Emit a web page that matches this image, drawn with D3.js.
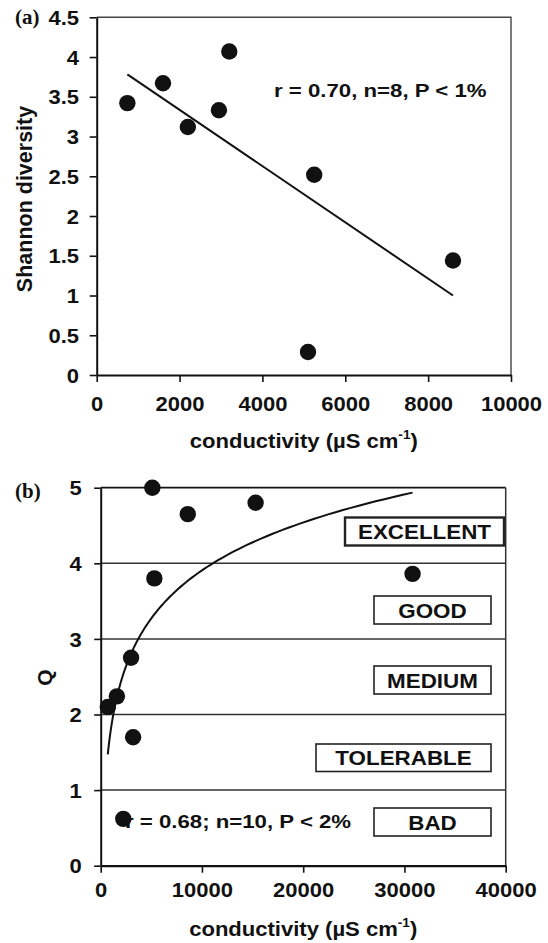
<!DOCTYPE html>
<html>
<head>
<meta charset="utf-8">
<script src="https://cdn.jsdelivr.net/npm/d3@7"></script>
<style>
  html, body { margin: 0; padding: 0; background: #fff; }
  svg { display: block; }
  text { font-family: "Liberation Sans", Arial, sans-serif; font-weight: bold; fill: #111; }
</style>
</head>
<body>
<svg id="chart" width="548" height="943"></svg>
<script>
'use strict';

/* Data */

// panel (a): conductivity vs Shannon diversity
var condA = [740, 1600, 2200, 2950, 3200, 5250, 5100, 8600]
var shannon = [3.42, 3.67, 3.12, 3.33, 4.07, 2.52, 0.29, 1.44]
var xTicksA = [0, 2000, 4000, 6000, 8000, 10000]
var yTicksA = [0, 0.5, 1, 1.5, 2, 2.5, 3, 3.5, 4, 4.5]

// panel (b): conductivity vs Q
var condB = [5100, 8600, 15300, 5300, 3000, 1600, 700, 3200, 2230, 30800]
var qValues = [5.0, 4.65, 4.8, 3.8, 2.75, 2.24, 2.1, 1.7, 0.62, 3.86]
var xTicksB = [0, 10000, 20000, 30000, 40000]
var yTicksB = [0, 1, 2, 3, 4, 5]
var classes = ['BAD', 'TOLERABLE', 'MEDIUM', 'GOOD', 'EXCELLENT']

var statsA = 'r = 0.70, n=8, P < 1%'
var statsB = 'r = 0.68; n=10, P < 2%'

/* Layout */

var svg = d3.select('#chart')
var ink = '#111'

// boxes for quality classes, in pixels
var boxLayout = {
  EXCELLENT: {x0: 345, x1: 504, y0: 517.5, y1: 545.5, w: 2.4},
  GOOD:      {x0: 374, x1: 491, y0: 596,   y1: 624,   w: 1.6},
  MEDIUM:    {x0: 374, x1: 491, y0: 666,   y1: 694,   w: 1.6},
  TOLERABLE: {x0: 316, x1: 491, y0: 744,   y1: 771.5, w: 1.6},
  BAD:       {x0: 374, x1: 491, y0: 808,   y1: 836,   w: 1.6}
}

function label(x, y, txt, opts) {
  opts = opts || {}
  var g = svg.append('g')
      .attr('transform', 'translate(' + x + ',' + y + ')' + (opts.rotate ? ' rotate(' + opts.rotate + ')' : '') +
            ' scale(' + (opts.sx || 1) + ',1)')
  var t = g.append('text')
      .attr('text-anchor', opts.anchor || 'start')
      .style('font-size', (opts.size || 19) + 'px')
  if (opts.serif) t.style('font-family', '"Liberation Serif", "Times New Roman", serif')
  t.text(txt)
  return t
}

function xTitle(cx, y) {
  var g = svg.append('g').attr('transform', 'translate(' + cx + ',' + y + ') scale(1.05,1)')
  var t = g.append('text').attr('text-anchor', 'middle').style('font-size', '21px')
  t.append('tspan').text('conductivity (\u00b5S cm')
  t.append('tspan').text('-1').style('font-size', '13px').attr('dy', -9)
  t.append('tspan').text(')').attr('dy', 9)
}

function styleAxis(g, w) {
  g.select('.domain').attr('stroke', ink).attr('stroke-width', w)
  g.selectAll('.tick line').attr('stroke', ink).attr('stroke-width', 1.6)
  g.selectAll('.tick text')
      .attr('fill', ink)
      .style('font-family', '"Liberation Sans", Arial, sans-serif')
      .style('font-weight', 'bold')
      .style('font-size', '20px')
}

function linearFit(xs, ys) {
  var mx = d3.mean(xs), my = d3.mean(ys)
  var sxy = d3.sum(xs, function(x, i){ return (x - mx) * (ys[i] - my) })
  var sxx = d3.sum(xs, function(x){ return (x - mx) * (x - mx) })
  var slope = sxy / sxx
  return {slope: slope, intercept: my - slope * mx}
}

/* Panel (a) */

var xA = d3.scaleLinear().domain([0, 10000]).range([96.7, 511])
var yA = d3.scaleLinear().domain([0, 4.5]).range([375, 17.3])

// frame top/right
svg.append('path')
    .attr('d', 'M' + xA(0) + ',' + yA(4.5) + 'H' + xA(10000) + 'V' + yA(0))
    .attr('fill', 'none').attr('stroke', '#444').attr('stroke-width', 1.4)

var gxA = svg.append('g')
    .attr('transform', 'translate(0,' + yA(0) + ')')
    .call(d3.axisBottom(xA).tickValues(xTicksA).tickSize(7).tickSizeOuter(0).tickFormat(d3.format('d')))
styleAxis(gxA, 2)
gxA.selectAll('.tick text').attr('dy', 0).attr('y', 35.7).attr('transform', 'scale(1.1,1)')

var gyA = svg.append('g')
    .attr('transform', 'translate(' + xA(0) + ',0)')
    .call(d3.axisLeft(yA).tickValues(yTicksA).tickSize(7).tickSizeOuter(0).tickFormat(function(d){ return String(d) }))
styleAxis(gyA, 2)
gyA.selectAll('.tick text').attr('x', -16).attr('dy', '0.36em').attr('transform', 'scale(1.1,1)')

var fitA = linearFit(condA, shannon)
var extA = d3.extent(condA)
svg.append('line')
    .attr('x1', xA(extA[0])).attr('y1', yA(fitA.intercept + fitA.slope * extA[0]))
    .attr('x2', xA(extA[1])).attr('y2', yA(fitA.intercept + fitA.slope * extA[1]))
    .attr('stroke', ink).attr('stroke-width', 2)

svg.append('g').selectAll('circle')
    .data(condA)
  .enter().append('circle')
    .attr('cx', function(d){ return xA(d) })
    .attr('cy', function(d, i){ return yA(shannon[i]) })
    .attr('r', 8.2)
    .attr('fill', '#111')

label(274, 96.7, statsA, {size: 19, sx: 1.17})
label(15, 24, '(a)', {size: 20, sx: 1.05, serif: true})
label(32, 199, 'Shannon diversity', {size: 21.5, rotate: -90, anchor: 'middle'})
xTitle(303.8, 448)

/* Panel (b) */

var xB = d3.scaleLinear().domain([0, 40000]).range([100.7, 505.7])
var yB = d3.scaleLinear().domain([0, 5]).range([865.7, 487.7])

// class gridlines
svg.append('g').selectAll('line')
    .data(yTicksB.slice(1, 5))
  .enter().append('line')
    .attr('x1', xB(0)).attr('x2', xB(40000))
    .attr('y1', function(d){ return yB(d) }).attr('y2', function(d){ return yB(d) })
    .attr('stroke', '#333').attr('stroke-width', 1.5)

svg.append('line')
    .attr('x1', xB(0)).attr('x2', xB(40000)).attr('y1', yB(5)).attr('y2', yB(5))
    .attr('stroke', ink).attr('stroke-width', 1.8)
svg.append('line')
    .attr('x1', xB(40000)).attr('x2', xB(40000)).attr('y1', yB(5)).attr('y2', yB(0))
    .attr('stroke', '#333').attr('stroke-width', 1.5)

var gxB = svg.append('g')
    .attr('transform', 'translate(0,' + yB(0) + ')')
    .call(d3.axisBottom(xB).tickValues(xTicksB).tickSize(7).tickSizeOuter(0).tickFormat(d3.format('d')))
styleAxis(gxB, 2.2)
gxB.selectAll('.tick text').attr('dy', 0).attr('y', 31).attr('transform', 'scale(1.1,1)')

var gyB = svg.append('g')
    .attr('transform', 'translate(' + xB(0) + ',0)')
    .call(d3.axisLeft(yB).tickValues(yTicksB).tickSize(6.5).tickSizeOuter(0).tickFormat(d3.format('d')))
styleAxis(gyB, 2)
gyB.selectAll('.tick text').attr('x', -17.3).attr('dy', '0.36em').attr('transform', 'scale(1.1,1)')

// quality class boxes
classes.forEach(function(c){
  var b = boxLayout[c]
  svg.append('rect')
      .attr('x', b.x0).attr('y', b.y0)
      .attr('width', b.x1 - b.x0).attr('height', b.y1 - b.y0)
      .attr('fill', '#fff').attr('stroke', '#222').attr('stroke-width', b.w)
  label((b.x0 + b.x1) / 2, (b.y0 + b.y1) / 2 + 7.6, c, {size: 20, sx: 1.12, anchor: 'middle'})
})

// logarithmic fit Q = a ln(c) + b, drawn between the smallest and largest conductivity
var fitB = linearFit(condB.map(Math.log), qValues)
var extB = d3.extent(condB)
var curve = d3.range(0, 121).map(function(i){
  var c = Math.exp(Math.log(extB[0]) + i / 120 * (Math.log(extB[1]) - Math.log(extB[0])))
  return [c, fitB.intercept + fitB.slope * Math.log(c)]
})
svg.append('path')
    .datum(curve)
    .attr('d', d3.line().x(function(d){ return xB(d[0]) }).y(function(d){ return yB(d[1]) }))
    .attr('fill', 'none').attr('stroke', ink).attr('stroke-width', 2)

label(125, 828, statsB, {size: 19, sx: 1.17})

svg.append('g').selectAll('circle')
    .data(condB)
  .enter().append('circle')
    .attr('cx', function(d){ return xB(d) })
    .attr('cy', function(d, i){ return yB(qValues[i]) })
    .attr('r', 8.2)
    .attr('fill', '#111')

label(15, 498, '(b)', {size: 20, sx: 1.05, serif: true})
label(52, 677.5, 'Q', {size: 21, rotate: -90, anchor: 'middle'})
xTitle(303.2, 936)
</script>
</body>
</html>
